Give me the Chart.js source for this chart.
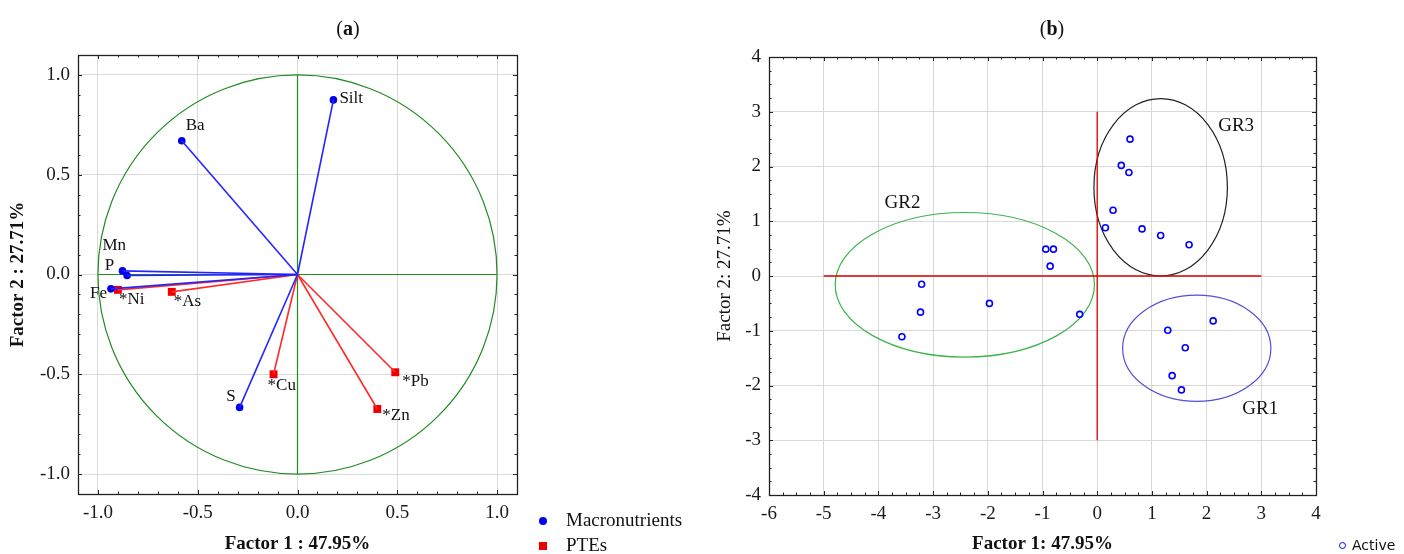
<!DOCTYPE html>
<html><head><meta charset="utf-8">
<script src="https://cdn.jsdelivr.net/npm/chart.js@4.4.1/dist/chart.umd.min.js"></script>
<style>
html,body{margin:0;padding:0;background:#fff;width:1404px;height:554px;overflow:hidden;position:relative;font-family:'Liberation Serif',serif;color:#111;}
#cA{position:absolute;left:0;top:0;}
#cB{position:absolute;left:700px;top:0;}
.title{position:absolute;top:14px;font-size:20px;line-height:28px;transform:translateX(-50%);white-space:nowrap;}
.leg{position:absolute;font-size:19px;line-height:22px;white-space:nowrap;}
.mk{position:absolute;box-sizing:border-box;}
</style></head><body>
<canvas id="cA" width="700" height="554"></canvas>
<canvas id="cB" width="704" height="554"></canvas>
<div class="title" style="left:348px">(<b>a</b>)</div>
<div class="title" style="left:1052px">(<b>b</b>)</div>
<div class="mk" style="left:539px;top:517px;width:8px;height:8px;border-radius:50%;background:#0000ee"></div>
<div class="leg" style="left:566px;top:509px">Macronutrients</div>
<div class="mk" style="left:539px;top:542px;width:8px;height:8px;background:#ee0000"></div>
<div class="leg" style="left:566px;top:534px">PTEs</div>
<div class="mk" style="left:1339px;top:542px;width:7px;height:7px;border-radius:50%;border:1.5px solid #0000ff"></div>
<div class="leg" style="left:1352px;top:536px;font-family:'DejaVu Sans',sans-serif;font-size:14px;line-height:18px">Active</div>
<script>
// ---------- Data (a): factor loadings ----------
const macroNames = ['Silt', 'Ba', 'Mn', 'P', 'Fe', 'S'];
const macroF1 = [0.18, -0.58, -0.877, -0.854, -0.935, -0.29];
const macroF2 = [0.875, 0.67, 0.018, -0.005, -0.072, -0.666];
const pteNames = ['*Ni', '*As', '*Cu', '*Pb', '*Zn'];
const pteF1 = [-0.90, -0.63, -0.12, 0.49, 0.40];
const pteF2 = [-0.077, -0.087, -0.50, -0.49, -0.674];
const ticksAx = [-1, -0.5, 0, 0.5, 1];
const ticksAy = [-1, -0.5, 0, 0.5, 1];
const circleRadius = 1;

// ---------- Data (b): factor scores ----------
const scoreF1 = [-0.94, -0.80, -0.86, -3.21, -3.23, -3.57, -1.97, -0.32, 0.60, 0.44, 0.58, 0.29, 0.15, 0.82, 1.16, 1.68, 2.12, 1.29, 1.61, 1.37, 1.54];
const scoreF2 = [0.49, 0.49, 0.18, -0.15, -0.66, -1.11, -0.50, -0.70, 2.50, 2.02, 1.89, 1.20, 0.88, 0.86, 0.74, 0.57, -0.82, -0.99, -1.31, -1.82, -2.08];
const groupNames = ['GR1', 'GR2', 'GR3'];
const groupCx = [1.82, -2.42, 1.16];
const groupCy = [-1.32, -0.16, 1.62];
const groupRx = [1.355, 2.37, 1.22];
const groupRy = [0.97, 1.32, 1.62];
const groupLabelX = [2.98, -3.56, 2.54];
const groupLabelY = [-2.43, 1.33, 2.74];
const refLineX = [-5, 3];
const refLineY = [-3, 3];
const ticksBx = [-6, -5, -4, -3, -2, -1, 0, 1, 2, 3, 4];
const ticksBy = [-4, -3, -2, -1, 0, 1, 2, 3, 4];

// ---------- Styles ----------
const SERIF = "'Liberation Serif', 'Times New Roman', serif";
Chart.defaults.font.family = SERIF;
const labelStyleA = {
  'Silt': {align: 'left', dx: 6, dy: -1},
  'Ba': {align: 'left', dx: 4, dy: -15},
  'Mn': {align: 'left', dx: -20, dy: -25},
  'P': {align: 'right', dx: -13, dy: -10},
  'Fe': {align: 'right', dx: -4, dy: 5},
  'S': {align: 'right', dx: -4, dy: -11},
  '*Ni': {align: 'left', dx: 1, dy: 10},
  '*As': {align: 'left', dx: 2, dy: 10},
  '*Cu': {align: 'left', dx: -6, dy: 11},
  '*Pb': {align: 'left', dx: 7, dy: 9},
  '*Zn': {align: 'left', dx: 5, dy: 7}
};
const groupColors = ['#5050d8', '#3cb44b', '#222222'];

function vectorDatasets(f1, f2, color) {
  return f1.map((v, i) => ({
    data: [{x: 0, y: 0}, {x: v, y: f2[i]}],
    showLine: true, borderColor: color, borderWidth: 1.6, pointRadius: 0, pointHoverRadius: 0
  }));
}

function framePlugin(id, xStep, yStep, xMajor, yMajor) {
  return {
    id,
    afterDraw(chart) {
      const {ctx, chartArea: a, scales: {x, y}} = chart;
      ctx.save();
      ctx.strokeStyle = '#222';
      ctx.lineWidth = 1;
      ctx.beginPath();
      const isMajor = (v, m) => Math.abs(v / m - Math.round(v / m)) < 1e-6;
      const nx = Math.round((x.max - x.min) / xStep);
      for (let i = 0; i <= nx; i++) {
        const v = x.min + i * xStep;
        const px = Math.round(x.getPixelForValue(v)) + 0.5;
        const L = isMajor(v, xMajor) ? 4 : 2.5;
        ctx.moveTo(px, a.top); ctx.lineTo(px, a.top + L);
        ctx.moveTo(px, a.bottom); ctx.lineTo(px, a.bottom - L);
      }
      const ny = Math.round((y.max - y.min) / yStep);
      for (let i = 0; i <= ny; i++) {
        const v = y.min + i * yStep;
        const py = Math.round(y.getPixelForValue(v)) + 0.5;
        const L = isMajor(v, yMajor) ? 4 : 2.5;
        ctx.moveTo(a.left, py); ctx.lineTo(a.left + L, py);
        ctx.moveTo(a.right, py); ctx.lineTo(a.right - L, py);
      }
      ctx.stroke();
      ctx.lineWidth = 1.3;
      ctx.strokeRect(Math.round(a.left) + 0.5, Math.round(a.top) + 0.5, Math.round(a.right - a.left), Math.round(a.bottom - a.top));
      ctx.restore();
    }
  };
}

function axisCfg(min, max, tickVals, fmt, title, titleBold, titlePadTop, fitSize, isY) {
  return {
    type: 'linear', min, max,
    afterBuildTicks: s => { s.ticks = tickVals.map(v => ({value: v})); },
    afterFit: s => { if (isY) s.width = fitSize; else s.height = fitSize; },
    ticks: {callback: fmt, font: {family: SERIF, size: 19}, color: '#1a1a1a', padding: 8, maxRotation: 0, autoSkip: false},
    grid: {color: '#d9d9d9', lineWidth: 1, drawTicks: false},
    border: {display: false},
    title: {display: true, text: title, color: '#111',
      font: {family: SERIF, size: 19, weight: titleBold ? 'bold' : 'normal', lineHeight: 1},
      padding: {top: titlePadTop, bottom: 0}}
  };
}

// ---------- Chart (a) ----------
const circlePlugin = {
  id: 'circleA',
  beforeDatasetsDraw(chart) {
    const {ctx, scales: {x, y}} = chart;
    const cx = x.getPixelForValue(0), cy = y.getPixelForValue(0);
    const rx = x.getPixelForValue(circleRadius) - cx, ry = cy - y.getPixelForValue(circleRadius);
    ctx.save();
    ctx.strokeStyle = '#228b22';
    ctx.lineWidth = 1.2;
    ctx.beginPath();
    ctx.ellipse(cx, cy, rx, ry, 0, 0, 2 * Math.PI);
    ctx.stroke();
    ctx.beginPath();
    ctx.moveTo(x.getPixelForValue(-circleRadius), cy); ctx.lineTo(x.getPixelForValue(circleRadius), cy);
    ctx.moveTo(cx, y.getPixelForValue(-circleRadius)); ctx.lineTo(cx, y.getPixelForValue(circleRadius));
    ctx.stroke();
    ctx.restore();
  }
};
const labelsPluginA = {
  id: 'labelsA',
  afterDatasetsDraw(chart) {
    const ctx = chart.ctx;
    ctx.save();
    ctx.font = "17px " + SERIF;
    ctx.fillStyle = '#111';
    ctx.textBaseline = 'middle';
    chart.data.datasets.forEach((ds, i) => {
      if (!ds.names) return;
      chart.getDatasetMeta(i).data.forEach((pt, j) => {
        const n = ds.names[j], s = labelStyleA[n];
        ctx.textAlign = s.align;
        ctx.fillText(n, pt.x + s.dx, pt.y + s.dy);
      });
    });
    ctx.restore();
  }
};

new Chart(document.getElementById('cA'), {
  type: 'scatter',
  data: {
    datasets: [
      ...vectorDatasets(macroF1, macroF2, '#2424ff'),
      ...vectorDatasets(pteF1, pteF2, '#ff2a2a'),
      {label: 'Macronutrients', names: macroNames, data: macroF1.map((v, i) => ({x: v, y: macroF2[i]})),
        pointStyle: 'circle', pointRadius: 3.8, backgroundColor: '#0000ee', borderColor: '#0000ee', borderWidth: 0},
      {label: 'PTEs', names: pteNames, data: pteF1.map((v, i) => ({x: v, y: pteF2[i]})),
        pointStyle: 'rect', pointRadius: 5.6, backgroundColor: '#ee0000', borderColor: '#ee0000', borderWidth: 0}
    ]
  },
  options: {
    responsive: false, animation: false, devicePixelRatio: 1,
    layout: {padding: {left: 0, right: 183, top: 55, bottom: 0}},
    plugins: {legend: {display: false}, tooltip: {enabled: false}},
    scales: {
      x: axisCfg(-1.1, 1.1, ticksAx, v => v.toFixed(1), 'Factor 1 : 47.95%', true, 0, 60, false),
      y: axisCfg(-1.1, 1.1, ticksAy, v => v.toFixed(1), 'Factor 2 : 27.71%', true, 8.5, 78, true)
    }
  },
  plugins: [circlePlugin, labelsPluginA, framePlugin('frameA', 0.1, 0.1, 0.5, 0.5)]
});

// ---------- Chart (b) ----------
const groupsPluginB = {
  id: 'groupsB',
  beforeDatasetsDraw(chart) {
    const {ctx, scales: {x, y}} = chart;
    const ux = Math.abs(x.getPixelForValue(1) - x.getPixelForValue(0));
    const uy = Math.abs(y.getPixelForValue(1) - y.getPixelForValue(0));
    ctx.save();
    ctx.lineWidth = 1.2;
    groupNames.forEach((g, i) => {
      ctx.strokeStyle = groupColors[i];
      ctx.beginPath();
      ctx.ellipse(x.getPixelForValue(groupCx[i]), y.getPixelForValue(groupCy[i]), groupRx[i] * ux, groupRy[i] * uy, 0, 0, 2 * Math.PI);
      ctx.stroke();
    });
    ctx.strokeStyle = '#e00000';
    ctx.lineWidth = 1.3;
    ctx.beginPath();
    const y0 = y.getPixelForValue(0), x0 = x.getPixelForValue(0);
    ctx.moveTo(x.getPixelForValue(refLineX[0]), y0); ctx.lineTo(x.getPixelForValue(refLineX[1]), y0);
    ctx.moveTo(x0, y.getPixelForValue(refLineY[0])); ctx.lineTo(x0, y.getPixelForValue(refLineY[1]));
    ctx.stroke();
    ctx.font = "19px " + SERIF;
    ctx.fillStyle = '#111';
    ctx.textAlign = 'center';
    ctx.textBaseline = 'middle';
    groupNames.forEach((g, i) => {
      ctx.fillText(g, x.getPixelForValue(groupLabelX[i]), y.getPixelForValue(groupLabelY[i]));
    });
    ctx.restore();
  }
};

new Chart(document.getElementById('cB'), {
  type: 'scatter',
  data: {
    datasets: [
      {label: 'Active', data: scoreF1.map((v, i) => ({x: v, y: scoreF2[i]})),
        pointStyle: 'circle', pointRadius: 3, borderWidth: 1.6, borderColor: '#0000ff', backgroundColor: 'rgba(0,0,0,0)'}
    ]
  },
  options: {
    responsive: false, animation: false, devicePixelRatio: 1,
    layout: {padding: {left: 0, right: 88, top: 57, bottom: 0}},
    plugins: {legend: {display: false}, tooltip: {enabled: false}},
    scales: {
      x: axisCfg(-6, 4, ticksBx, v => String(v), 'Factor 1: 47.95%', true, 0, 59, false),
      y: axisCfg(-4, 4, ticksBy, v => String(v), 'Factor 2: 27.71%', false, 15.5, 69, true)
    }
  },
  plugins: [groupsPluginB, framePlugin('frameB', 0.25, 0.25, 1, 1)]
});
</script>
</body></html>
